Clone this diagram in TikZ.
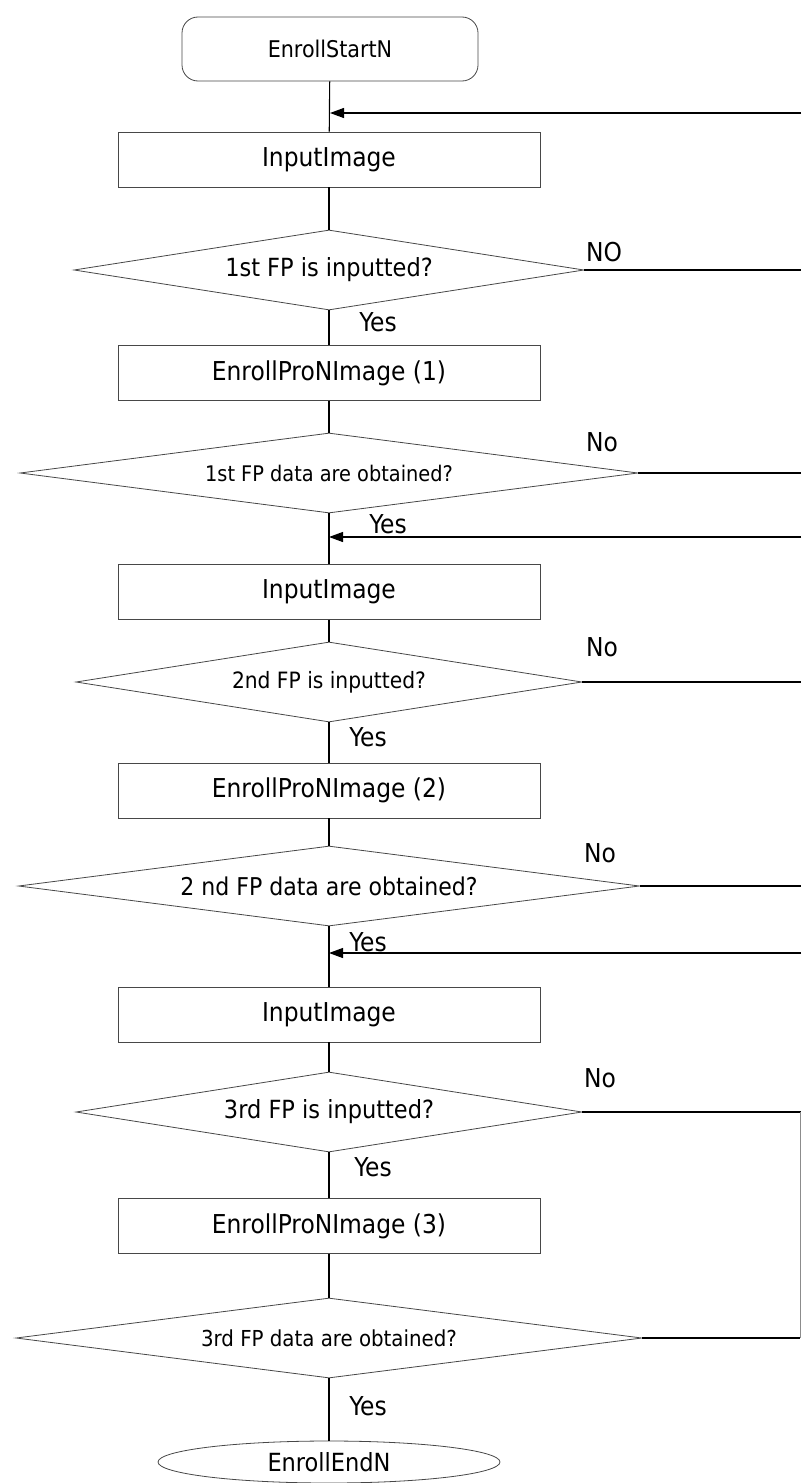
\documentclass[tikz,border=0pt]{standalone}
\usepackage{fontspec}
\setmainfont{DejaVu Sans Condensed}
\usetikzlibrary{shapes.geometric,arrows.meta}
\newcommand{\fs}[1]{\fontsize{#1}{#1}\selectfont}
\begin{document}
\begin{tikzpicture}[x=1pt,y=-1pt,
  outline/.style={draw=black!72, line width=0.8pt, inner sep=0pt},
  procbox/.style={outline, rectangle, minimum width=422pt, minimum height=55pt, font=\fs{26}},
  startbox/.style={outline, rectangle, rounded corners=16pt, minimum width=296pt, minimum height=64pt, font=\fs{23}},
  endbox/.style={outline, ellipse, minimum width=342pt, minimum height=42pt, font=\fs{25}},
  decide/.style={outline, diamond, aspect=7, minimum width=#1, minimum height=80pt},
  flow/.style={draw=black, line width=1.1pt},
  back/.style={flow, -{Triangle[length=14pt,width=10pt]}},
  rim/.style={draw=black!45, line width=0.8pt},
  lbl/.style={font=\fs{26}, inner sep=0pt}]
\useasboundingbox (0,0) rectangle (801,1483);

% process steps
\node[startbox] (start) at (330,49) {EnrollStartN};
\node[procbox] (in1) at (329,159.5) {InputImage};
\node[decide=510pt, font=\fs{25}] (d1) at (329,270) {1st FP is inputted?};
\node[procbox] (ep1) at (329,373) {EnrollProNImage (1)};
\node[decide=618pt, font=\fs{21.5}] (d2) at (329,473) {1st FP data are obtained?};
\node[procbox] (in2) at (329,592) {InputImage};
\node[decide=506pt, font=\fs{22.5}] (d3) at (329,682) {2nd FP is inputted?};
\node[procbox] (ep2) at (329,790.5) {EnrollProNImage (2)};
\node[decide=621pt, font=\fs{24.5}] (d4) at (329,886) {2 nd FP data are obtained?};
\node[procbox] (in3) at (329,1014.5) {InputImage};
\node[decide=506pt, font=\fs{25}] (d5) at (329,1112) {3rd FP is inputted?};
\node[procbox] (ep3) at (329,1226) {EnrollProNImage (3)};
\node[decide=626pt, font=\fs{22}] (d6) at (329,1338) {3rd FP data are obtained?};
\node[endbox] (end) at (329,1462) {EnrollEndN};

% main flow
\draw[flow] (start) -- (in1);
\draw[flow] (in1) -- (d1);
\draw[flow] (d1) -- (ep1);
\draw[flow] (ep1) -- (d2);
\draw[flow] (d2) -- (in2);
\draw[flow] (in2) -- (d3);
\draw[flow] (d3) -- (ep2);
\draw[flow] (ep2) -- (d4);
\draw[flow] (d4) -- (in3);
\draw[flow] (in3) -- (d5);
\draw[flow] (d5) -- (ep3);
\draw[flow] (ep3) -- (d6);
\draw[flow] (d6) -- (end);

% return paths entering from the right
\coordinate (r1) at (801,113);
\coordinate (r2) at (801,537);
\coordinate (r3) at (801,953);
\draw[back] (r1) -- (r1 -| start.south);
\draw[back] (r2) -- (r2 -| d2.south);
\draw[back] (r3) -- (r3 -| d4.south);

% "No" exits
\coordinate (edge) at (801,0);
\coordinate (rail) at (800,0);
\draw[flow] (d1.east) -- (d1.east -| edge);
\draw[flow] (d2.east) -- (d2.east -| edge);
\draw[flow] (d3.east) -- (d3.east -| edge);
\draw[flow] (d4.east) -- (d4.east -| edge);
\draw[flow] (d5.east) -- (d5.east -| edge);
\draw[flow] (d6.east) -- (d6.east -| rail);
\draw[rim] (d5.east -| rail) -- (d6.east -| rail);

% branch labels
\node[lbl] (n1) at (604,252) {NO};
\node[lbl] (n2) at (602,442) {No};
\node[lbl] (n3) at (602,647) {No};
\node[lbl] (n4) at (600,853) {No};
\node[lbl] (n5) at (600,1078) {No};
\node[lbl] (y1) at (378,322) {Yes};
\node[lbl] (y2) at (388,524) {Yes};
\node[lbl] (y3) at (368,737) {Yes};
\node[lbl] (y4) at (368,942) {Yes};
\node[lbl] (y5) at (373,1167) {Yes};
\node[lbl] (y6) at (368,1406) {Yes};
\end{tikzpicture}
\end{document}
